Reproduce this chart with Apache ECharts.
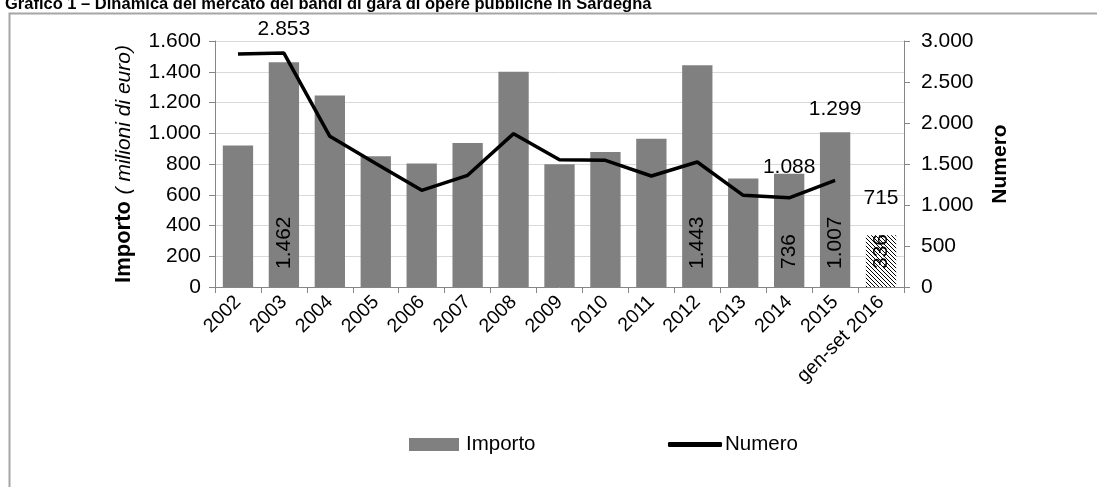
<!DOCTYPE html>
<html>
<head>
<meta charset="utf-8">
<script src="https://cdn.jsdelivr.net/npm/echarts@6/dist/echarts.min.js"></script>
<style>
html,body{margin:0;padding:0;background:#fff;}
#c{width:1097px;height:487px;}
</style>
</head>
<body>
<div id="c"></div>
<script>
var categories = ['2002','2003','2004','2005','2006','2007','2008','2009','2010','2011','2012','2013','2014','2015','gen-set 2016'];
var importo = [920, 1462, 1245, 850, 803, 937, 1400, 798, 878, 965, 1443, 705, 736, 1007, 336];
var numero = [2840, 2853, 1838, 1505, 1179, 1362, 1870, 1553, 1545, 1354, 1524, 1118, 1088, 1299, 715];
var importoLabelIdx = [1, 10, 12, 13, 14];
var numeroLabelIdx = [1, 12, 13, 14];
var numeroLabelDist = [13, 20, 60, 19];
var leftTicks = {min: 0, max: 1600, interval: 200};
var rightTicks = {min: 0, max: 3000, interval: 500};

function fmt(v) { return String(v).replace(/\B(?=(\d{3})+(?!\d))/g, '.'); }

// hatch pattern for partial year
var pc = document.createElement('canvas');
pc.width = 4; pc.height = 4;
var pctx = pc.getContext('2d');
pctx.fillStyle = '#fff'; pctx.fillRect(0,0,4,4);
pctx.fillStyle = '#000';
for (var i = 0; i < 4; i++) pctx.fillRect(i, i, 1, 1);
var hatch = {image: pc, repeat: 'repeat'};

var lastIdx = categories.length - 1;
var barData = importo.map(function (v, i) {
  var d = {value: v};
  if (i === lastIdx) d.itemStyle = {color: hatch};
  if (importoLabelIdx.indexOf(i) >= 0) d.label = {show: true};
  return d;
});
var lineData = numero.map(function (v, i) { return i === lastIdx ? null : v; });
var lblData = numero.map(function (v, i) {
  var k = numeroLabelIdx.indexOf(i);
  if (k < 0) return null;
  return {value: v, label: {show: true, distance: numeroLabelDist[k]}};
});

var FF = 'Liberation Sans, Arial, sans-serif';
var chart = echarts.init(document.getElementById('c'), null, {renderer: 'canvas'});
chart.setOption({
  animation: false,
  backgroundColor: '#fff',
  textStyle: {fontFamily: FF},
  title: {
    text: 'Grafico 1 – Dinamica del mercato dei bandi di gara di opere pubbliche in Sardegna',
    left: 0, top: -9,
    textStyle: {fontSize: 16.5, fontWeight: 'bold', color: '#000', fontFamily: FF}
  },
  graphic: [{
    type: 'rect', left: 7, top: 11, z: -1, silent: true,
    shape: {width: 1200, height: 600},
    style: {fill: 'none', stroke: '#a6a6a6', lineWidth: 2}
  }],
  grid: {left: 215, right: 193, top: 41, bottom: 200, containLabel: false},
  legend: [{
    data: [{name: 'Importo', icon: 'rect'}],
    left: 404, top: 429,
    itemWidth: 50, itemHeight: 13,
    textStyle: {fontSize: 20.5, color: '#000', padding: [0, 0, 0, 2]}
  }, {
    data: [{name: 'Numero', icon: 'roundRect'}],
    left: 663, top: 429,
    itemWidth: 54, itemHeight: 5,
    textStyle: {fontSize: 20.5, color: '#000', padding: [0, 0, 0, -2]}
  }],
  xAxis: {
    type: 'category', data: categories,
    axisLine: {lineStyle: {color: '#868686', width: 1}},
    axisTick: {show: true, length: 6, lineStyle: {color: '#868686'}},
    axisLabel: {rotate: 45, fontSize: 19.5, color: '#000', margin: 12, interval: 0}
  },
  yAxis: [{
    type: 'value', min: leftTicks.min, max: leftTicks.max, interval: leftTicks.interval,
    position: 'left',
    name: '{b|Importo}  {i|( milioni di euro)}',
    nameLocation: 'middle', nameGap: 80, nameRotate: 90,
    nameTextStyle: {
      rich: {
        b: {fontSize: 22, fontWeight: 'bold', color: '#000'},
        i: {fontSize: 21, fontStyle: 'italic', color: '#000'}
      }
    },
    axisLine: {show: true, lineStyle: {color: '#868686'}},
    axisTick: {show: true, length: 6, lineStyle: {color: '#868686'}},
    axisLabel: {fontSize: 21, color: '#000', margin: 14, formatter: fmt},
    splitLine: {show: true, lineStyle: {color: '#d9d9d9', width: 1}}
  }, {
    type: 'value', min: rightTicks.min, max: rightTicks.max, interval: rightTicks.interval,
    position: 'right',
    name: 'Numero',
    nameLocation: 'middle', nameGap: 86, nameRotate: 90,
    nameTextStyle: {fontSize: 21, fontWeight: 'bold', color: '#000'},
    axisLine: {show: true, lineStyle: {color: '#868686'}},
    axisTick: {show: true, length: 6, lineStyle: {color: '#868686'}},
    axisLabel: {fontSize: 21, color: '#000', margin: 17, formatter: fmt},
    splitLine: {show: false}
  }],
  series: [{
    name: 'Importo', type: 'bar', data: barData,
    barCategoryGap: '34%',
    itemStyle: {color: '#808080'},
    label: {
      show: false, position: 'insideBottom', rotate: 90, align: 'left', verticalAlign: 'middle',
      distance: 18, fontSize: 21, color: '#000',
      formatter: function (p) { return fmt(p.value); }
    }
  }, {
    name: 'Numero', type: 'line', yAxisIndex: 1, data: lineData,
    symbol: 'none', showSymbol: false,
    lineStyle: {color: '#000', width: 3.5},
    itemStyle: {color: '#000'}
  }, {
    name: 'NumeroLabel', type: 'scatter', yAxisIndex: 1, data: lblData,
    symbolSize: 1, itemStyle: {color: 'rgba(0,0,0,0)'},
    label: {
      show: false, position: 'top', fontSize: 21, color: '#000', opacity: 1,
      formatter: function (p) { return fmt(p.value); }
    },
    silent: true
  }]
});
</script>
</body>
</html>
